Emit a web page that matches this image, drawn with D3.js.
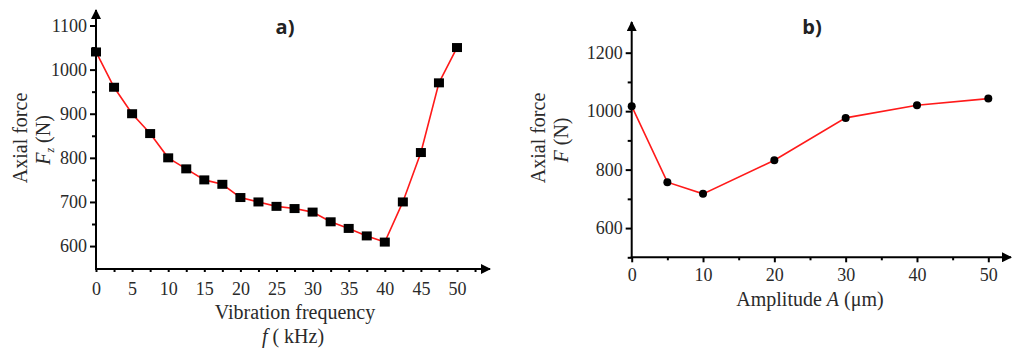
<!DOCTYPE html>
<html>
<head>
<meta charset="utf-8">
<script src="https://cdn.jsdelivr.net/npm/d3@7"></script>
<style>
  body { margin: 0; background: #fff; }
  svg text { font-family: "Liberation Serif", "Times New Roman", serif; fill: #2a2a2a; }
  .tick text { font-size: 18px; }
  .lbl { font-size: 20px; }
  svg text.panel-title { font-family: "Open Sans", "Lato", sans-serif; font-weight: bold; font-size: 20px; fill: #222; }
</style>
</head>
<body>
<script>
// panel a: vibration frequency vs axial force
var freq = [0, 2.5, 5, 7.5, 10, 12.5, 15, 17.5, 20, 22.5, 25, 27.5, 30, 32.5, 35, 37.5, 40, 42.5, 45, 47.5, 50];
var forceA = [1040, 960, 900, 855, 800, 775, 750, 740, 710, 700, 690, 685, 677, 655, 640, 623, 609, 700, 812, 970, 1050];
var ticksAx = [0, 5, 10, 15, 20, 25, 30, 35, 40, 45, 50];
var ticksAy = [600, 700, 800, 900, 1000, 1100];

// panel b: amplitude vs axial force
var amp = [0, 5, 10, 20, 30, 40, 50];
var forceB = [1017, 757, 717, 832, 977, 1020, 1043];
var ticksBx = [0, 10, 20, 30, 40, 50];
var ticksBy = [600, 800, 1000, 1200];

var svg = d3.select("body").append("svg")
    .attr("width", 1013)
    .attr("height", 351);

svg.append("defs").append("marker")
    .attr("id", "arrow")
    .attr("viewBox", "0 0 10 10")
    .attr("refX", 9).attr("refY", 5)
    .attr("markerWidth", 5).attr("markerHeight", 5)
    .attr("markerUnits", "strokeWidth")
    .attr("orient", "auto")
  .append("path")
    .attr("d", "M0,0L10,5L0,10z")
    .attr("fill", "#000");

function panel(opt) {
  var x = d3.scaleLinear().domain(opt.xDomain).range(opt.xRange);
  var y = d3.scaleLinear().domain(opt.yDomain).range(opt.yRange);
  var g = svg.append("g");

  // minor ticks
  g.append("g")
      .attr("transform", "translate(" + opt.xRange[0] + ",0)")
      .call(d3.axisLeft(y).tickValues(opt.yMinor).tickSize(4).tickFormat(""))
      .call(function(s) { s.select(".domain").remove(); });
  g.append("g")
      .attr("transform", "translate(0," + opt.yRange[0] + ")")
      .call(d3.axisBottom(x).tickValues(opt.xMinor).tickSize(3).tickFormat(""))
      .call(function(s) { s.select(".domain").remove(); });

  // major ticks
  var yAxis = g.append("g")
      .attr("transform", "translate(" + opt.xRange[0] + ",0)")
      .call(d3.axisLeft(y).tickValues(opt.yTicks).tickSize(6).tickPadding(3).tickFormat(d3.format("d")));
  yAxis.select(".domain").remove();
  var xAxis = g.append("g")
      .attr("transform", "translate(0," + opt.yRange[0] + ")")
      .call(d3.axisBottom(x).tickValues(opt.xTicks).tickSize(opt.xTickSize).tickPadding(opt.xPad).tickFormat(d3.format("d")));
  xAxis.select(".domain").remove();
  g.selectAll(".tick line").attr("stroke", "#000").attr("stroke-width", 2);
  g.selectAll(".tick text")
      .attr("font-family", "Liberation Serif, serif")
      .attr("font-size", 18);

  // axis lines with arrows
  g.append("line")
      .attr("x1", opt.xRange[0]).attr("y1", opt.yRange[0] + 1)
      .attr("x2", opt.xRange[0]).attr("y2", opt.yTop)
      .attr("stroke", "#000").attr("stroke-width", 2)
      .attr("marker-end", "url(#arrow)");
  g.append("line")
      .attr("x1", opt.xRange[0] - 1).attr("y1", opt.yRange[0])
      .attr("x2", opt.xRight).attr("y2", opt.yRange[0])
      .attr("stroke", "#000").attr("stroke-width", 2)
      .attr("marker-end", "url(#arrow)");

  var pts = opt.xs.map(function(d, i) { return [d, opt.ys[i]]; });
  var line = d3.line()
      .x(function(d) { return x(d[0]); })
      .y(function(d) { return y(d[1]); });

  g.append("path")
      .datum(pts)
      .attr("d", line)
      .attr("fill", "none")
      .attr("stroke", "#ff1a1a")
      .attr("stroke-width", 1.6);

  if (opt.square) {
    g.selectAll(".pt").data(pts).enter().append("rect")
        .attr("x", function(d) { return x(d[0]) - 5; })
        .attr("y", function(d) { return y(d[1]) - 4.5; })
        .attr("width", 10).attr("height", 9)
        .attr("fill", "#000");
  } else {
    g.selectAll(".pt").data(pts).enter().append("circle")
        .attr("cx", function(d) { return x(d[0]); })
        .attr("cy", function(d) { return y(d[1]); })
        .attr("r", 4)
        .attr("fill", "#000");
  }
  return g;
}

var ga = panel({
  xDomain: [0, 50], xRange: [96, 457],
  yDomain: [548, 1100], yRange: [269, 25.5],
  xTicks: ticksAx, yTicks: ticksAy,
  xMinor: d3.range(2.5, 55, 5), yMinor: [650, 750, 850, 950, 1050],
  xTickSize: 3, xPad: 10,
  yTop: 10, xRight: 490,
  xs: freq, ys: forceA, square: true
});

var gb = panel({
  xDomain: [0, 50], xRange: [631.7, 988.3],
  yDomain: [500, 1200], yRange: [257.3, 52.7],
  xTicks: ticksBx, yTicks: ticksBy,
  xMinor: [5, 15, 25, 35, 45], yMinor: [500, 700, 900, 1100],
  xTickSize: 5, xPad: 6,
  yTop: 22, xRight: 1011,
  xs: amp, ys: forceB, square: false
});

// titles and axis labels
svg.append("text").attr("class", "panel-title").attr("x", 285).attr("y", 34)
    .attr("text-anchor", "middle").text("a)");
svg.append("text").attr("class", "panel-title").attr("x", 812).attr("y", 34)
    .attr("text-anchor", "middle").text("b)");

svg.append("text").attr("class", "lbl")
    .attr("transform", "translate(27,138) rotate(-90)")
    .attr("text-anchor", "middle")
    .text("Axial force");
var fz = svg.append("text").attr("class", "lbl")
    .attr("transform", "translate(50,140) rotate(-90)")
    .attr("text-anchor", "middle");
fz.append("tspan").style("font-style", "italic").text("F");
fz.append("tspan").style("font-style", "italic").style("font-size", "12px").attr("dy", 4).text("z");
fz.append("tspan").attr("dy", -4).text(" (N)");

svg.append("text").attr("class", "lbl").attr("x", 295).attr("y", 319)
    .attr("text-anchor", "middle")
    .text("Vibration frequency");
var fk = svg.append("text").attr("class", "lbl").attr("x", 293).attr("y", 343)
    .attr("text-anchor", "middle");
fk.append("tspan").style("font-style", "italic").text("f");
fk.append("tspan").text(" ( kHz)");

svg.append("text").attr("class", "lbl")
    .attr("transform", "translate(545,138) rotate(-90)")
    .attr("text-anchor", "middle")
    .text("Axial force");
var fb = svg.append("text").attr("class", "lbl")
    .attr("transform", "translate(568,140) rotate(-90)")
    .attr("text-anchor", "middle");
fb.append("tspan").style("font-style", "italic").text("F");
fb.append("tspan").text(" (N)");

var al = svg.append("text").attr("class", "lbl").attr("x", 810).attr("y", 306)
    .attr("text-anchor", "middle");
al.append("tspan").text("Amplitude ");
al.append("tspan").style("font-style", "italic").text("A");
al.append("tspan").text(" (\u03bcm)");
</script>
</body>
</html>
